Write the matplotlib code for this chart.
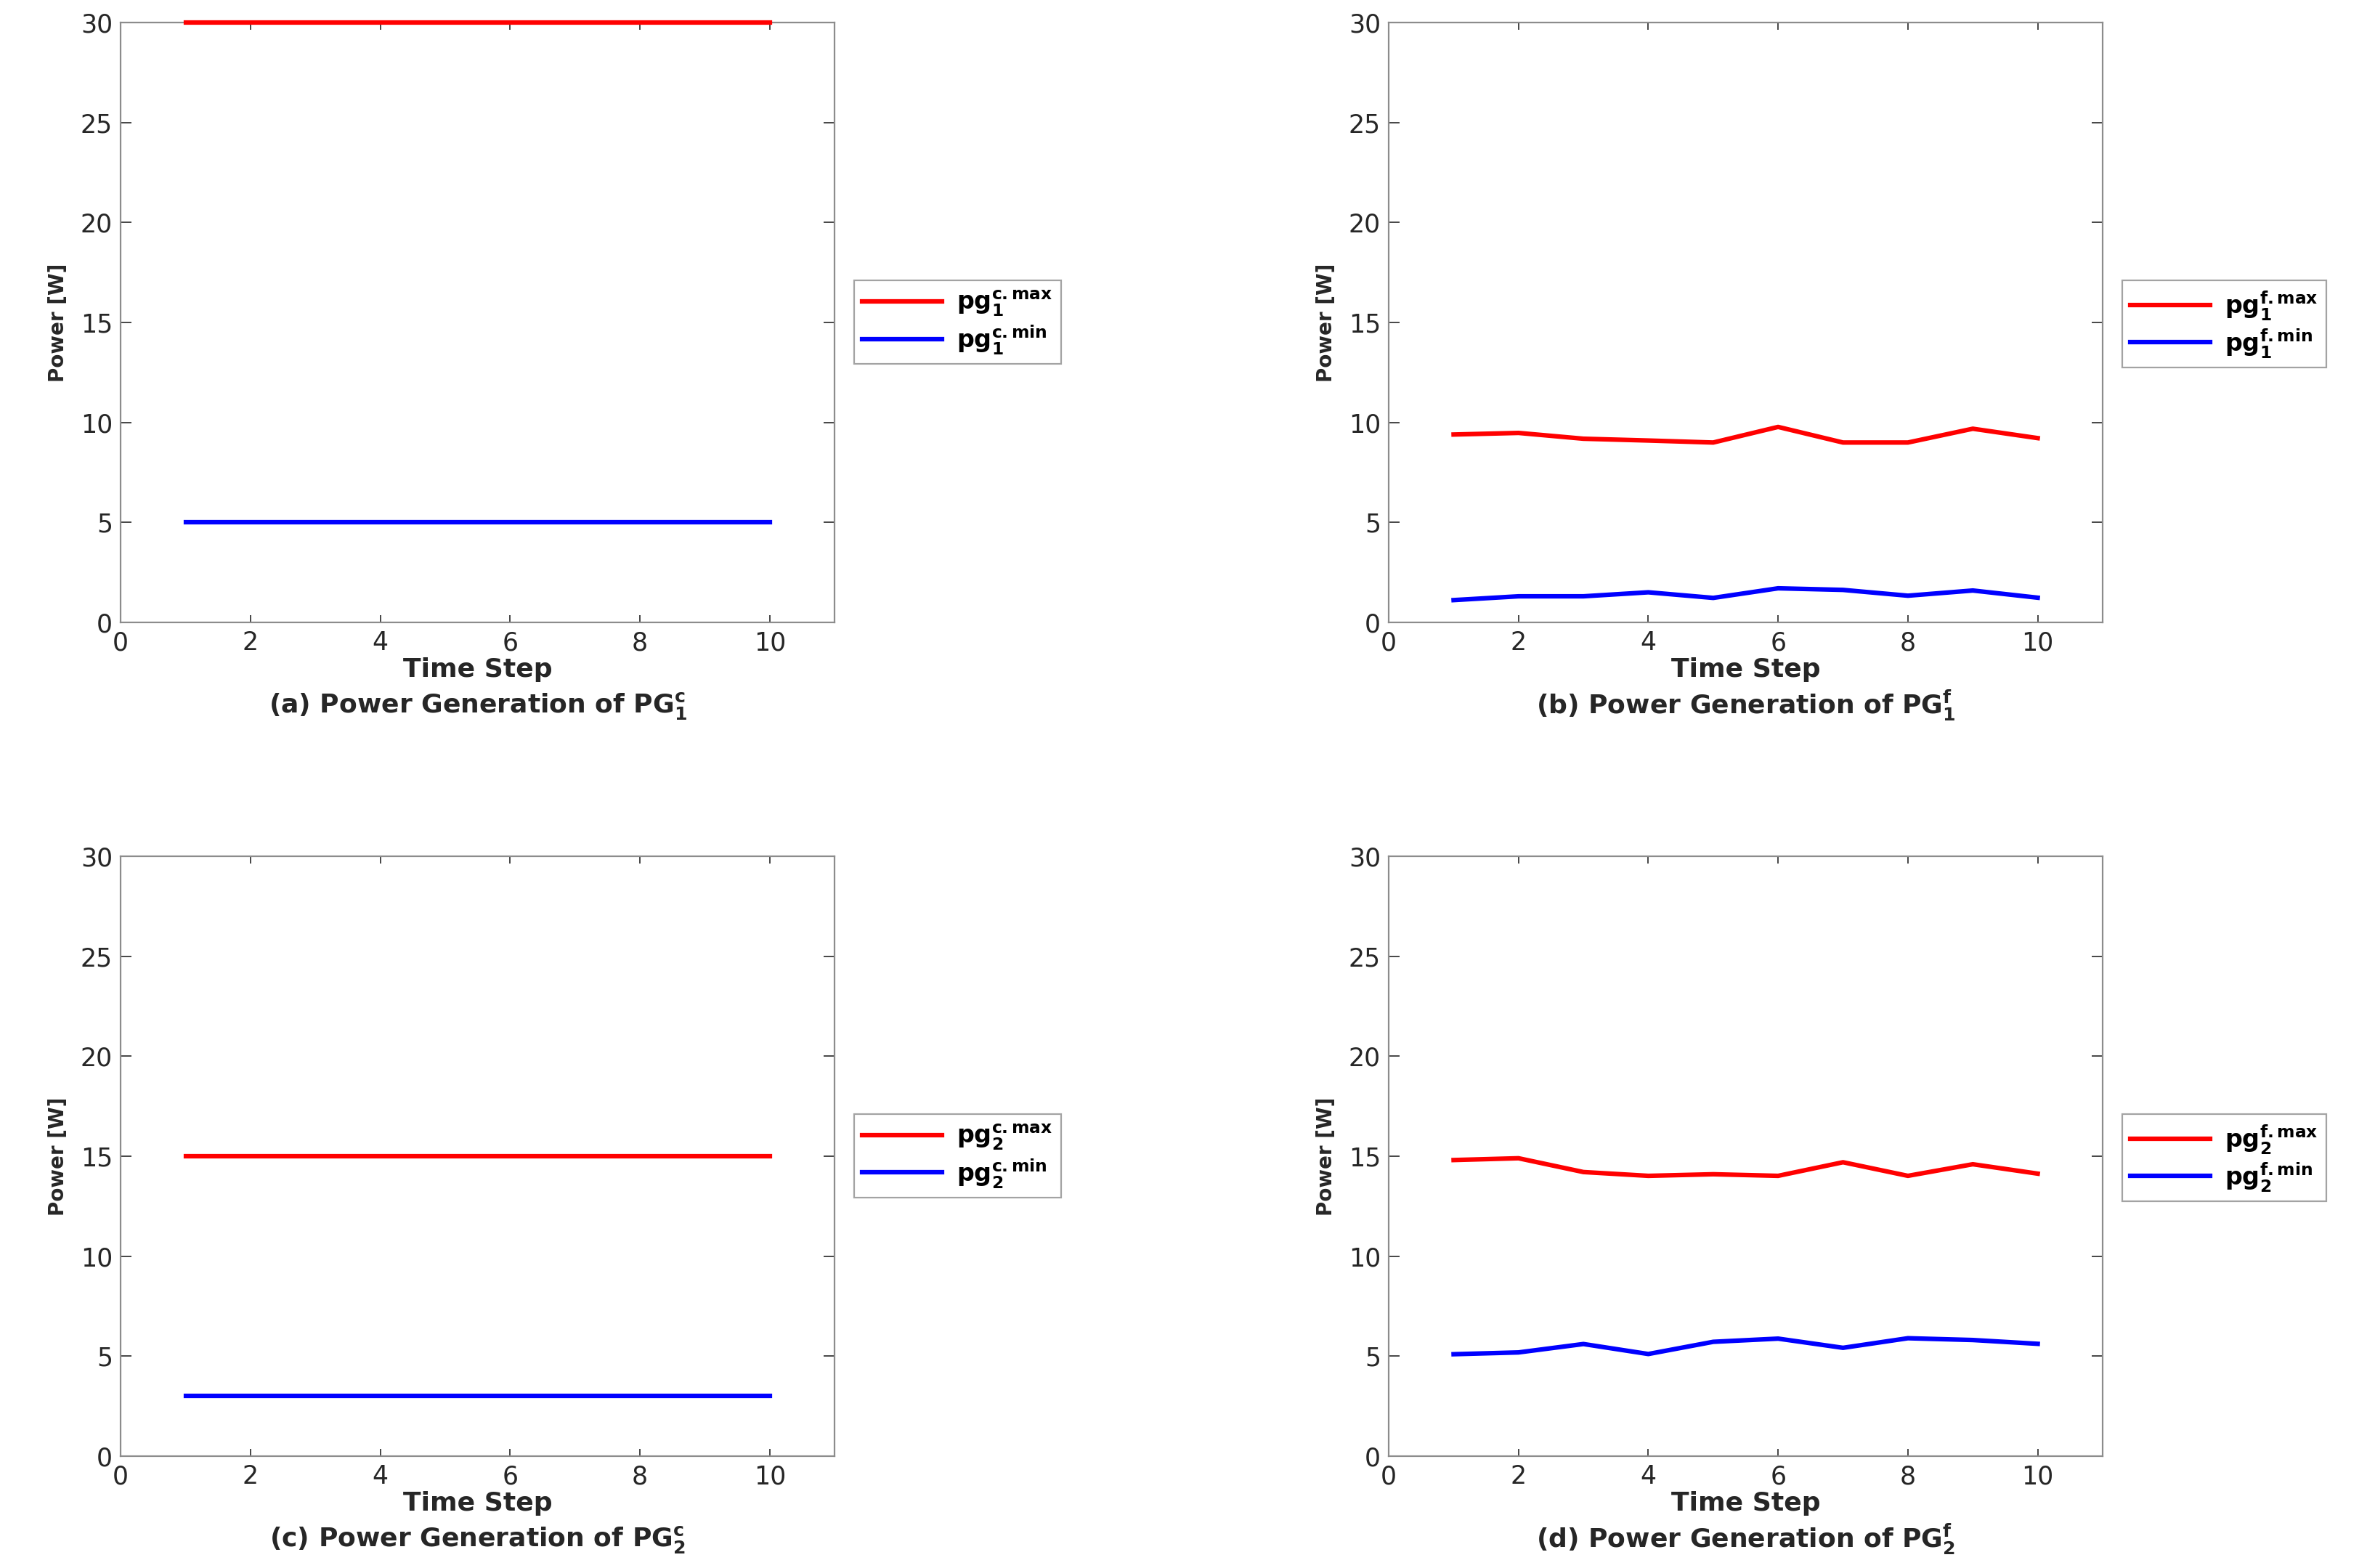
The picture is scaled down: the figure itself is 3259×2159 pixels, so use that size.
import matplotlib
matplotlib.use("Agg")
import matplotlib.pyplot as plt

# Data
steps = [1, 2, 3, 4, 5, 6, 7, 8, 9, 10]

pg1_c_max = [30, 30, 30, 30, 30, 30, 30, 30, 30, 30]
pg1_c_min = [5, 5, 5, 5, 5, 5, 5, 5, 5, 5]

pg1_f_max = [9.40, 9.48, 9.19, 9.10, 9.00, 9.78, 9.00, 9.00, 9.69, 9.22]
pg1_f_min = [1.12, 1.31, 1.31, 1.51, 1.23, 1.71, 1.63, 1.34, 1.60, 1.24]

pg2_c_max = [15, 15, 15, 15, 15, 15, 15, 15, 15, 15]
pg2_c_min = [3, 3, 3, 3, 3, 3, 3, 3, 3, 3]

pg2_f_max = [14.81, 14.90, 14.21, 14.02, 14.10, 14.02, 14.70, 14.02, 14.60, 14.13]
pg2_f_min = [5.10, 5.19, 5.61, 5.11, 5.72, 5.88, 5.42, 5.90, 5.81, 5.62]

panels = [
    ("a", "c", "1", pg1_c_max, pg1_c_min),
    ("b", "f", "1", pg1_f_max, pg1_f_min),
    ("c", "c", "2", pg2_c_max, pg2_c_min),
    ("d", "f", "2", pg2_f_max, pg2_f_min),
]

plt.rcParams['font.family'] = ['DejaVu Sans']
plt.rcParams['mathtext.fontset'] = 'dejavusans'

fig = plt.figure(figsize=(32.59, 21.59), dpi=100)

lefts = [0.051, 0.5867, 0.051, 0.5867]
bottoms = [0.603, 0.603, 0.0713, 0.0713]
w, h = 0.3016, 0.3826

spine_col = '#8c8c8c'
text_col = '#262626'

for i, (tag, kind, idx, ymax, ymin) in enumerate(panels):
    ax = fig.add_axes([lefts[i], bottoms[i], w, h])
    ax.plot(steps, ymax, color='#ff0000', lw=4.5, clip_on=False, zorder=3,
            label=r'$\mathbf{pg}_{\mathbf{%s}}^{\mathbf{%s{.}max}}$' % (idx, kind))
    ax.plot(steps, ymin, color='#0000ff', lw=4.5, clip_on=False, zorder=3,
            label=r'$\mathbf{pg}_{\mathbf{%s}}^{\mathbf{%s{.}min}}$' % (idx, kind))
    ax.set_xlim(0, 11)
    ax.set_ylim(0, 30)
    ax.set_xticks([0, 2, 4, 6, 8, 10])
    ax.set_yticks([0, 5, 10, 15, 20, 25, 30])
    for s in ax.spines.values():
        s.set_color(spine_col)
        s.set_linewidth(1.6)
    ax.tick_params(axis='both', direction='in', top=True, right=True,
                   color=text_col, labelcolor=text_col, labelsize=25, width=1.2)
    ax.tick_params(axis='x', length=7, pad=8)
    ax.tick_params(axis='y', length=11, pad=8)
    ax.set_xlabel('Time Step', fontsize=26, fontweight='bold', color=text_col, labelpad=2)
    ax.set_ylabel('Power [W]', fontsize=20, fontweight='bold', color=text_col, labelpad=12)
    ax.text(0.5, -0.139,
            '(%s) Power Generation of PG' % tag + r'$_{\mathbf{%s}}^{\mathbf{%s}}$' % (idx, kind),
            transform=ax.transAxes, ha='center', va='center',
            fontsize=26, fontweight='bold', color=text_col)
    leg = ax.legend(loc='upper left', bbox_to_anchor=(1.027, 0.570), borderaxespad=0,
                    fontsize=24, handlelength=3.3, frameon=True, fancybox=False,
                    borderpad=0.35, labelspacing=0.2, handletextpad=0.6)
    leg.get_frame().set_edgecolor(spine_col)
    leg.get_frame().set_linewidth(1.6)

fig.savefig('out.png', dpi=100)
